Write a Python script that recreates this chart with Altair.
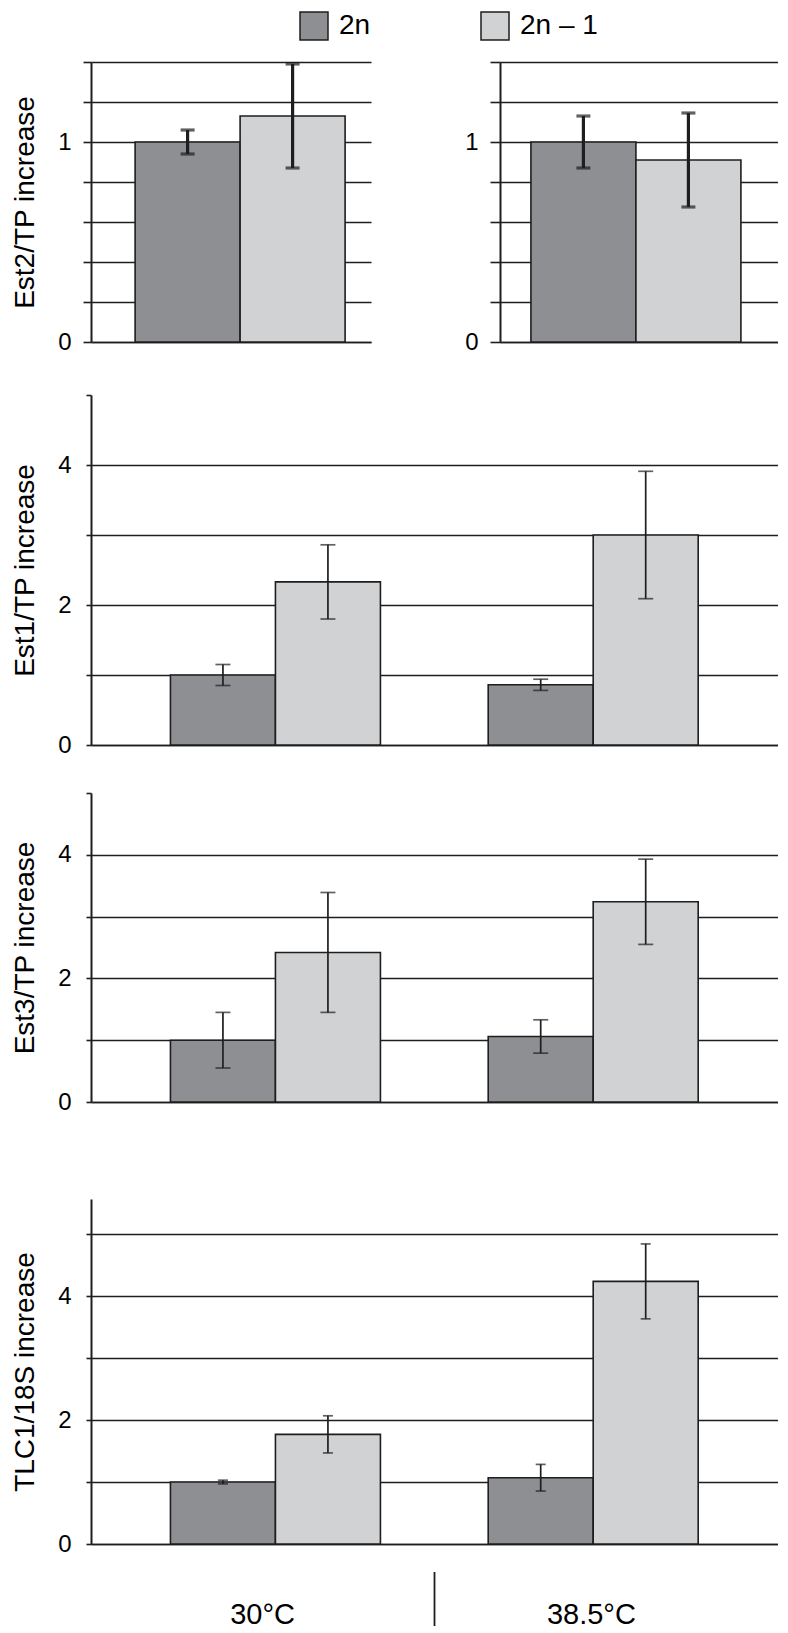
import altair as alt
import pandas as pd

temps = ["30°C", "38.5°C"]
genotypes = ["2n", "2n – 1"]
colors = ["#8e8f93", "#d1d2d4"]

# order: 30°C-2n, 30°C-(2n–1), 38.5°C-2n, 38.5°C-(2n–1)
est2_mean = [1.00, 1.13, 1.00, 0.91]
est2_err = [0.06, 0.26, 0.13, 0.235]
est1_mean = [1.00, 2.33, 0.86, 3.00]
est1_err = [0.15, 0.53, 0.08, 0.91]
est3_mean = [1.00, 2.42, 1.06, 3.24]
est3_err = [0.45, 0.97, 0.27, 0.69]
tlc1_mean = [1.00, 1.77, 1.07, 4.24]
tlc1_err = [0.03, 0.30, 0.215, 0.605]

est2_ticks = [0, 0.2, 0.4, 0.6, 0.8, 1, 1.2, 1.4]
est2_labels = [0, 1]
est_ticks = [0, 1, 2, 3, 4, 5]
est_labels = [0, 2, 4]

FONT = "Liberation Sans"
INK = "#1e1e1e"
PAD_INNER = 0.338
PAD_OUTER = 0.25
WIDE = 687


def frame(mean, err):
    rows = []
    i = 0
    for t in temps:
        for g in genotypes:
            rows.append({"temp": t, "geno": g, "mean": mean[i],
                         "lo": mean[i] - err[i], "hi": mean[i] + err[i]})
            i += 1
    return pd.DataFrame(rows)


legend = alt.Legend(
    title=None, orient="none", legendX=208, legendY=-51,
    direction="horizontal", columns=2, columnPadding=107,
    symbolType="square", symbolSize=784, symbolStrokeColor=INK,
    symbolStrokeWidth=1.5, symbolOpacity=1,
    labelFont=FONT, labelFontSize=28, labelColor="black", labelOffset=10,
)


def panel(df, width, height, ymax, yticks, ylabels, ytitle, xdomain,
          pin, pout, align, tick_size, label_pad, err_w, cap,
          no_grid_top=False, bottom=False):
    yscale = alt.Scale(domain=[0, ymax], nice=False, zero=True)
    xscale = alt.Scale(domain=xdomain, paddingInner=pin, paddingOuter=pout, align=align)
    offscale = alt.Scale(domain=genotypes, paddingInner=0, paddingOuter=0)
    lab_list = ",".join(str(v) for v in ylabels)
    grid_color = INK
    if no_grid_top:
        grid_color = {"condition": {"test": f"datum.value === {ymax}", "value": "transparent"},
                      "value": INK}
    yaxis = alt.Axis(
        values=yticks, grid=True, gridColor=grid_color, gridWidth=1.6, format="~g",
        domainColor=INK, domainWidth=2, tickColor=INK, tickWidth=1.6,
        tickSize=tick_size, labelExpr=f"indexof([{lab_list}], datum.value) >= 0 ? datum.label : ''",
        labelFont=FONT, labelFontSize=24, labelColor="black", labelPadding=label_pad,
        title=ytitle, titleFont=FONT, titleFontSize=28, titleFontWeight="normal",
        titleColor="black", titleAngle=270, titleBaseline="top", titleAlign="center",
        titleX=-80,
    )
    if bottom:
        xaxis = alt.Axis(
            title=None, ticks=False, labels=True, labelFont=FONT, labelFontSize=29,
            labelColor="black", labelPadding=56, labelAngle=0,
            labelOffset={"condition": {"test": "datum.value === '30°C'", "value": -13}, "value": -2},
            domainColor=INK, domainWidth=1.6, grid=False,
        )
    else:
        xaxis = alt.Axis(title=None, ticks=False, labels=False, domainColor=INK,
                         domainWidth=1.6, grid=False)

    base = alt.Chart(df)
    x = alt.X("temp:N", scale=xscale, axis=xaxis, sort=temps)
    xo = alt.XOffset("geno:N", scale=offscale, sort=genotypes)
    bars = base.mark_bar(stroke=INK, strokeWidth=1.6).encode(
        x=x, xOffset=xo,
        y=alt.Y("mean:Q", scale=yscale, axis=yaxis),
        color=alt.Color("geno:N", scale=alt.Scale(domain=genotypes, range=colors),
                        legend=legend, sort=genotypes),
    )
    rule = base.mark_rule(color=INK, strokeWidth=err_w).encode(
        x=x, xOffset=xo,
        y=alt.Y("lo:Q", scale=yscale, axis=yaxis), y2="hi:Q",
    )
    cap_lo = base.mark_tick(color=INK, thickness=err_w, size=cap).encode(
        x=x, xOffset=xo, y=alt.Y("lo:Q", scale=yscale, axis=yaxis),
    )
    cap_hi = base.mark_tick(color=INK, thickness=err_w, size=cap).encode(
        x=x, xOffset=xo, y=alt.Y("hi:Q", scale=yscale, axis=yaxis),
    )
    layers = [bars, rule, cap_lo, cap_hi]
    if bottom:
        # divider halfway through the gap between the two temperature groups
        step = width / (len(temps) - pin + 2 * pout)
        div = alt.Chart(pd.DataFrame({"temp": [temps[0]]})).mark_rule(
            color=INK, strokeWidth=1.8, xOffset=pin * step / 2).encode(
            x=alt.X("temp:N", scale=xscale, axis=xaxis, sort=temps, bandPosition=1),
            y=alt.value(height + 28), y2=alt.value(height + 82),
        )
        layers.append(div)
    return alt.layer(*layers).properties(width=width, height=height)


d2 = frame(est2_mean, est2_err)
d1 = frame(est1_mean, est1_err)
d3 = frame(est3_mean, est3_err)
dt = frame(tlc1_mean, tlc1_err)

top_left = panel(d2[d2.temp == temps[0]], 280, 280, 1.4, est2_ticks, est2_labels,
                 "Est2/TP increase", [temps[0]], 0, 0.1667, 0.63, 8, 12, 3.2, 14)
top_right = panel(d2[d2.temp == temps[1]], 278, 280, 1.4, est2_ticks, est2_labels,
                  None, [temps[1]], 0, 0.155, 0.47, 10, 12, 3.2, 14)
row1 = alt.hconcat(top_left, top_right, spacing=129, bounds="flush")

est1 = panel(d1, WIDE, 350, 5, est_ticks, est_labels, "Est1/TP increase", temps,
             PAD_INNER, PAD_OUTER, 0.5, 5, 15, 1.7, 15, no_grid_top=True).properties(
    title=alt.TitleParams(" ", fontSize=1, offset=3.3))
est3 = panel(d3, WIDE, 309, 5, est_ticks, est_labels, "Est3/TP increase", temps,
             PAD_INNER, PAD_OUTER, 0.5, 5, 15, 1.7, 15, no_grid_top=True)
tlc1 = panel(dt, WIDE, 345, 5.57, est_ticks, est_labels, "TLC1/18S increase", temps,
             PAD_INNER, PAD_OUTER, 0.5, 5, 15, 1.7, 10, bottom=True).properties(
    title=alt.TitleParams(" ", fontSize=1, offset=49))

chart = alt.vconcat(row1, est1, est3, tlc1, spacing=35).properties(
    padding={"left": 3, "top": 3, "right": 0, "bottom": 0}
).configure(background="white").configure_view(stroke=None)

chart.save("out.html", embed_options={"renderer": "svg", "actions": False})
